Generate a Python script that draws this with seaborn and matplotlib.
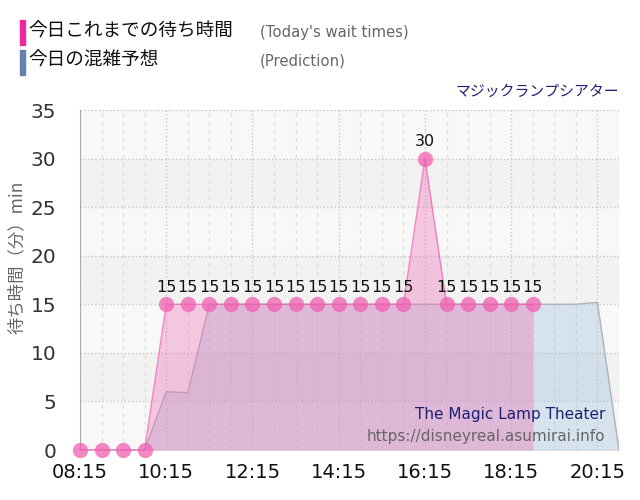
import pandas as pd
import numpy as np
import matplotlib
matplotlib.use("Agg")
import matplotlib.pyplot as plt
import matplotlib.dates as mdates
import seaborn as sns

# wait times so far (every 30 min)
wait_times = ["08:15", "08:45", "09:15", "09:45", "10:15", "10:45", "11:15", "11:45",
              "12:15", "12:45", "13:15", "13:45", "14:15", "14:45", "15:15", "15:45",
              "16:15", "16:45", "17:15", "17:45", "18:15", "18:45"]
wait_values = [0, 0, 0, 0, 15, 15, 15, 15,
               15, 15, 15, 15, 15, 15, 15, 15,
               30, 15, 15, 15, 15, 15]

# prediction
pred_times = ["08:15", "08:45", "09:15", "09:45", "10:15", "10:45", "11:15", "11:45",
              "12:15", "12:45", "13:15", "13:45", "14:15", "14:45", "15:15", "15:45",
              "16:15", "16:45", "17:15", "17:45", "18:15", "18:45", "19:15", "19:45",
              "20:15", "20:45"]
pred_values = [0, 0, 0, 0, 6, 5.9, 15, 15,
               15, 15, 15, 15, 15, 15, 15, 15,
               15, 15, 15, 15, 15, 15, 15, 15,
               15.2, 0]

x_ticks = ["08:15", "10:15", "12:15", "14:15", "16:15", "18:15", "20:15"]
y_ticks = [0, 5, 10, 15, 20, 25, 30, 35]

day = "2024-01-01 "
wait = pd.DataFrame({"time": pd.to_datetime([day + t for t in wait_times]), "wait": wait_values})
pred = pd.DataFrame({"time": pd.to_datetime([day + t for t in pred_times]), "wait": pred_values})
tick_dt = pd.to_datetime([day + t for t in x_ticks])

sns.set_style("white")
plt.rcParams["font.family"] = ["DejaVu Sans", "Noto Sans CJK JP"]
jp = ["Noto Sans CJK JP", "DejaVu Sans"]

fig = plt.figure(figsize=(6.4, 5), dpi=100)
ax = fig.add_axes([80 / 640, 50 / 500, 539 / 640, 340 / 500])

# background bands
ax.set_facecolor("#f8f8f8")
for lo in [5, 15, 25]:
    ax.axhspan(lo, lo + 5, color="#f2f2f2", zorder=0, lw=0)

# prediction area
ax.fill_between(pred["time"], pred["wait"], 0, color="#a8c4dc", alpha=0.42, lw=0, zorder=1)
sns.lineplot(data=pred, x="time", y="wait", ax=ax, color="#b0b0c0", linewidth=1, zorder=2)

# wait time area + markers
ax.fill_between(wait["time"], wait["wait"], 0, color="#f06ab4", alpha=0.35, lw=0, zorder=3)
sns.lineplot(data=wait, x="time", y="wait", ax=ax, color="#f060b0", linewidth=1,
             marker="o", markersize=11, markeredgewidth=0, alpha=0.75, zorder=4,
             clip_on=False)

for t, v in zip(wait["time"], wait["wait"]):
    if v > 0:
        ax.annotate(str(v), (t, v), xytext=(0, 7), textcoords="offset points",
                    ha="center", va="bottom", fontsize=11.5, color="#111111", zorder=5)

ax.set_xlim(pred["time"].iloc[0], pred["time"].iloc[-1])
ax.set_ylim(0, 35)
ax.set_yticks(y_ticks)
ax.set_xticks(tick_dt)
ax.set_xticks(pred["time"], minor=True)
ax.xaxis.set_major_formatter(mdates.DateFormatter("%H:%M"))
ax.tick_params(axis="x", which="major", labelsize=14, colors="#999999", labelcolor="#111111",
               length=6, width=1, pad=3)
ax.tick_params(axis="x", which="minor", length=0)
ax.tick_params(axis="y", labelsize=14.5, colors="#dddddd", labelcolor="#333333",
               length=14, width=1, pad=3)

ax.grid(True, axis="y", which="major", color="#c8c8c8", linestyle=":", linewidth=1)
ax.grid(True, axis="x", which="major", color="#c8c8c8", linestyle=":", linewidth=1)
ax.grid(True, axis="x", which="minor", color="#e0e0e0", linestyle=(0, (3, 3)), linewidth=1)
ax.set_axisbelow(True)
for s in ["top", "right"]:
    ax.spines[s].set_visible(False)
ax.spines["left"].set_color("#aaaaaa")
ax.spines["bottom"].set_color("#dddddd")
ax.set_xlabel("")
ax.set_ylabel("")

# y label
fig.text(17 / 640, 1 - 257 / 500, "待ち時間（分）min", rotation=90, ha="center", va="center",
         fontsize=12.5, color="#666666", family=jp)

# header legend
fig.patches.append(plt.Rectangle((20 / 640, 1 - 45 / 500), 5 / 640, 25 / 500,
                                 transform=fig.transFigure, color="#f0289a", figure=fig))
fig.patches.append(plt.Rectangle((20 / 640, 1 - 75 / 500), 5 / 640, 25 / 500,
                                 transform=fig.transFigure, color="#6682aa", figure=fig))
fig.text(28 / 640, 1 - 32 / 500, "今日これまでの待ち時間", ha="left", va="center",
         fontsize=13.4, color="#111111", family=jp)
fig.text(260 / 640, 1 - 32 / 500, "(Today's wait times)", ha="left", va="center",
         fontsize=10.7, color="#666666")
fig.text(28 / 640, 1 - 61 / 500, "今日の混雑予想", ha="left", va="center",
         fontsize=13.4, color="#111111", family=jp)
fig.text(260 / 640, 1 - 61 / 500, "(Prediction)", ha="left", va="center",
         fontsize=10.7, color="#666666")
fig.text(619 / 640, 1 - 92 / 500, "マジックランプシアター", ha="right", va="center",
         fontsize=10.7, color="#1f2070", family=jp)

# watermark
ax.text(0.975, 0.104, "The Magic Lamp Theater", transform=ax.transAxes, ha="right", va="center",
        fontsize=11, color="#1f2070", zorder=6)
ax.text(0.975, 0.041, "https://disneyreal.asumirai.info", transform=ax.transAxes, ha="right",
        va="center", fontsize=11, color="#666666", zorder=6)

fig.savefig("out.png", dpi=100)
